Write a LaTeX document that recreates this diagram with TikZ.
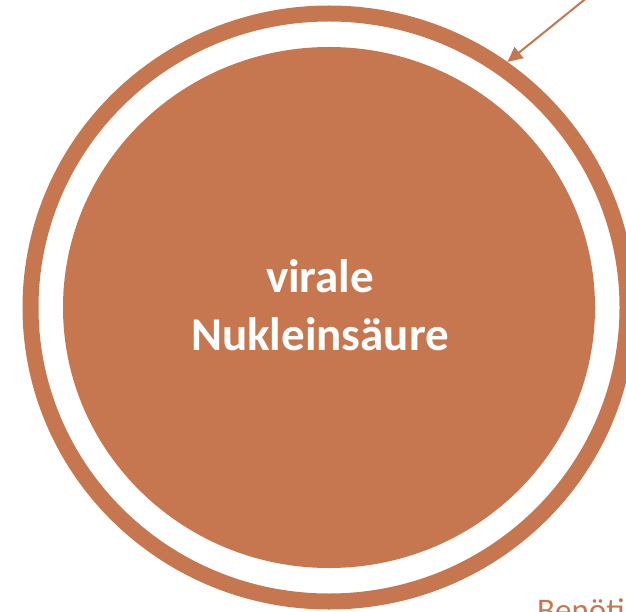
\documentclass[tikz,border=0pt]{standalone}
\usepackage{fontspec}
\setmainfont{Carlito}
\usetikzlibrary{shapes.geometric,arrows.meta}
\definecolor{rust}{RGB}{199,119,80}
\tikzset{
  ringshape/.style={ellipse, draw=rust, line width=16pt, inner sep=0pt, minimum width=597pt, minimum height=588pt},
  discshape/.style={ellipse, fill=rust, draw=none, inner sep=0pt, minimum width=532pt, minimum height=521pt},
  disctext/.style={text=white, font=\bfseries\fontsize{47}{58}\selectfont, align=center, inner sep=0pt},
  pointer/.style={draw=rust, line width=2pt, -{Triangle[length=15pt, width=14pt]}},
  sidetext/.style={text=rust, font=\fontsize{33}{36}\selectfont, anchor=base west, inner sep=0pt}
}
\begin{document}
\begin{tikzpicture}[x=1pt,y=-1pt]
\useasboundingbox (0,0) rectangle (626,612);
\clip (0,0) rectangle (626,612);
\node[ringshape] (ring) at (329,307.5) {};
\node[discshape] (disc) at (329,307.5) {};
\node[disctext] (label) at (320,305) {virale\\Nukleinsäure};
\coordinate (src) at (620,-29);
\draw[pointer] (src) -- (ring.54.7);
\node[sidetext] (side) at (537,621) {Benöti};
\end{tikzpicture}
\end{document}
